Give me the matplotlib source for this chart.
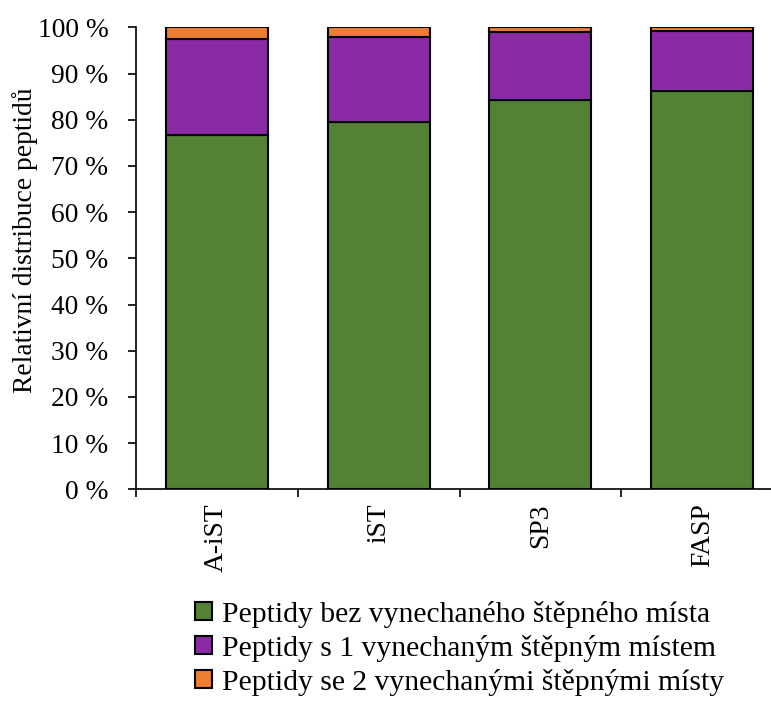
import matplotlib
matplotlib.use("Agg")
import matplotlib.pyplot as plt
import numpy as np

plt.rcParams['font.family'] = ['Liberation Serif', 'DejaVu Serif']

# Data (percent of peptides)
methods = ['A-iST', 'iST', 'SP3', 'FASP']
no_missed = [76.7, 79.6, 84.3, 86.3]
one_missed = [20.85, 18.3, 14.7, 12.9]
two_missed = [2.45, 2.1, 1.0, 0.8]
series_labels = ['Peptidy bez vynechaného štěpného místa',
                 'Peptidy s 1 vynechaným štěpným místem',
                 'Peptidy se 2 vynechanými štěpnými místy']
colors = ['#548235', '#8A2BA5', '#ED7D31']

fs = 19.8

fig = plt.figure(figsize=(7.71, 7.01), dpi=100)
ax = fig.add_axes([0.176, 0.302, 0.84, 0.659])

x = np.arange(len(methods))
bottom = np.zeros(len(methods))
handles = []
for vals, col, lab in zip([no_missed, one_missed, two_missed], colors, series_labels):
    b = ax.bar(x, vals, bottom=bottom, width=0.63, color=col,
               edgecolor='black', linewidth=1.5, label=lab, zorder=3)
    handles.append(b)
    bottom += np.array(vals)

ax.set_xlim(-0.5, len(methods) - 0.5)
ax.set_ylim(0, 100)
ax.set_yticks(np.arange(0, 101, 10))
ax.set_yticklabels([f'{v} %' for v in range(0, 101, 10)], fontsize=fs)
ax.set_ylabel('Relativní distribuce peptidů', fontsize=fs)
ax.yaxis.set_label_coords(-0.151, 0.54)

ax.set_xticks(x)
ax.set_xticklabels(methods, rotation=90, fontsize=fs)
ax.tick_params(axis='x', which='major', length=0, pad=10)
ax.set_xticks(np.arange(-0.5, len(methods)), minor=True)
ax.tick_params(axis='x', which='minor', length=6, width=1.2, direction='out')
ax.tick_params(axis='y', length=6, width=1.2, direction='out', pad=13.5)

for s in ['top', 'right']:
    ax.spines[s].set_visible(False)
ax.spines['left'].set_linewidth(1.2)
ax.spines['bottom'].set_linewidth(1.2)

fig.legend(handles=handles, loc='upper left', bbox_to_anchor=(0.238, 0.16),
           frameon=False, fontsize=21.3, handlelength=0.55, handleheight=0.55,
           handletextpad=0.35, labelspacing=0.24, borderaxespad=0)

plt.savefig('out.png', dpi=100)
